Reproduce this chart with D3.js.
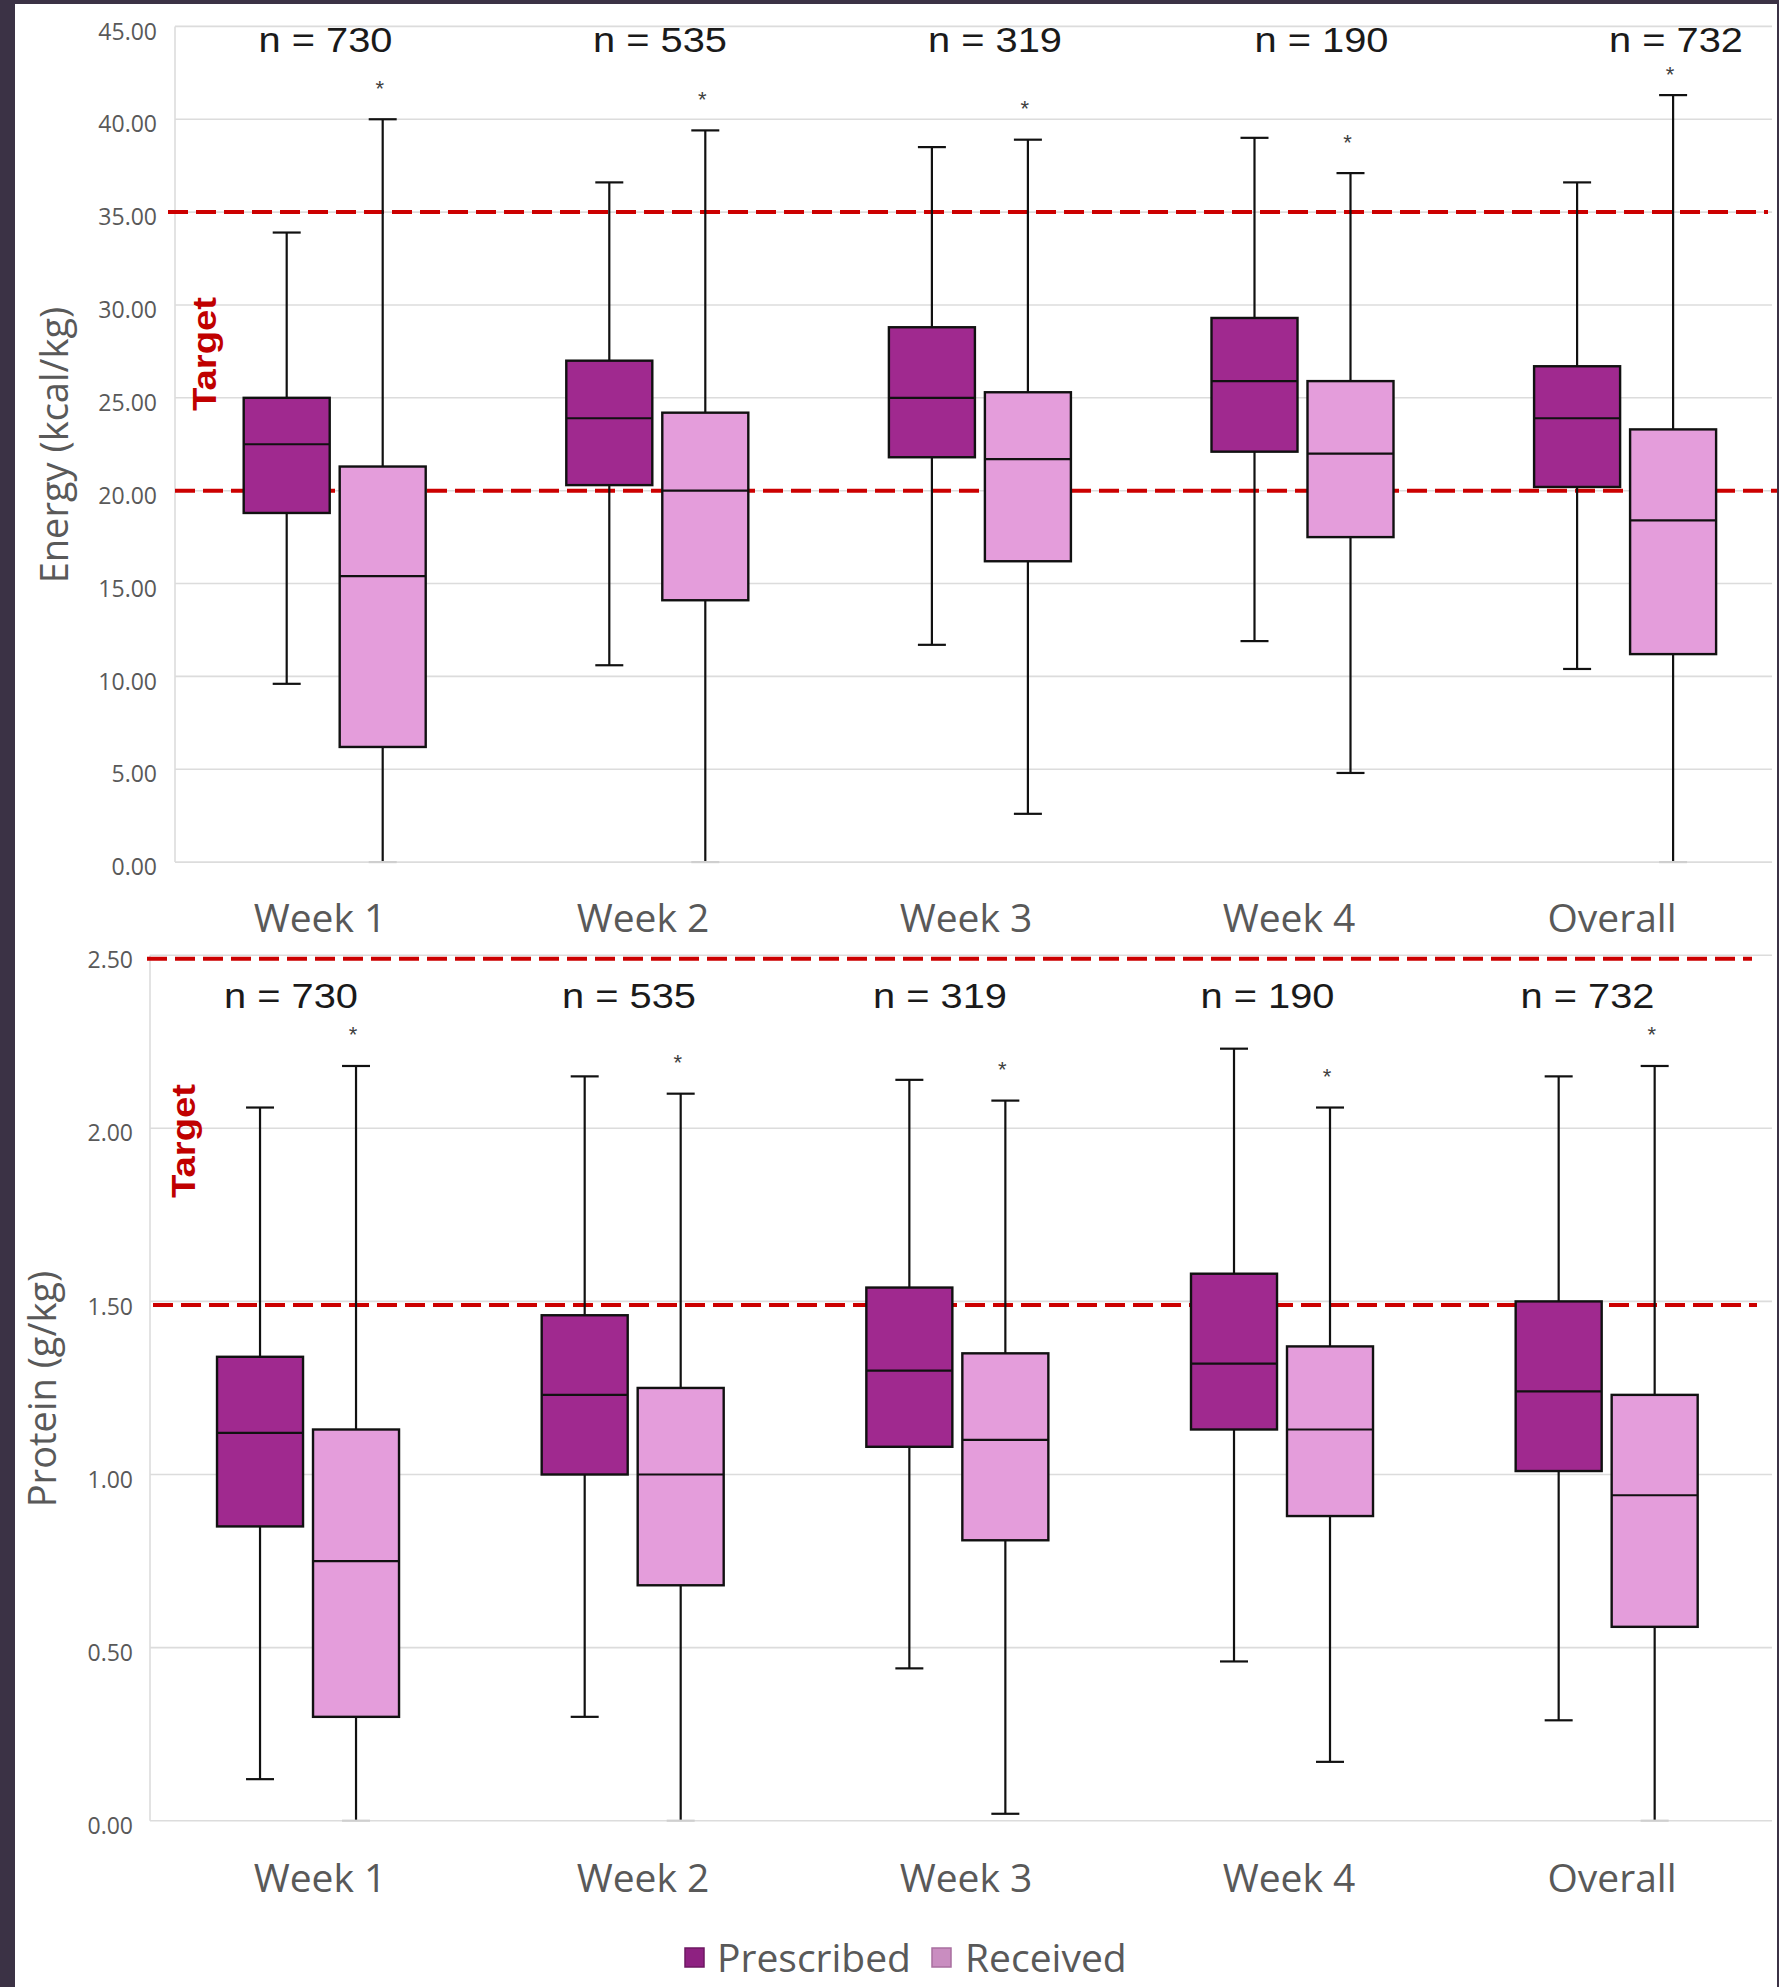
<!DOCTYPE html>
<html>
<head>
<meta charset="utf-8">
<script src="https://cdn.jsdelivr.net/npm/d3@7"></script>
<style>
  body { margin: 0; background: #3b3245; }
  svg { display: block; }
</style>
</head>
<body>
<script>
// ---------- DATA ----------
const categories = ["Week 1", "Week 2", "Week 3", "Week 4", "Overall"];
const series = ["Prescribed", "Received"];
const nEnergy = [730, 535, 319, 190, 732];
const nProtein = [730, 535, 319, 190, 732];

// each entry: [lower whisker, Q1, median, Q3, upper whisker]
const energyPrescribed = [
  [9.6, 18.8, 22.5, 25.0, 33.9],
  [10.6, 20.3, 23.9, 27.0, 36.6],
  [11.7, 21.8, 25.0, 28.8, 38.5],
  [11.9, 22.1, 25.9, 29.3, 39.0],
  [10.4, 20.2, 23.9, 26.7, 36.6]
];
const energyReceived = [
  [0.0, 6.2, 15.4, 21.3, 40.0],
  [0.0, 14.1, 20.0, 24.2, 39.4],
  [2.6, 16.2, 21.7, 25.3, 38.9],
  [4.8, 17.5, 22.0, 25.9, 37.1],
  [0.0, 11.2, 18.4, 23.3, 41.3]
];
const proteinPrescribed = [
  [0.12, 0.85, 1.12, 1.34, 2.06],
  [0.30, 1.00, 1.23, 1.46, 2.15],
  [0.44, 1.08, 1.30, 1.54, 2.14],
  [0.46, 1.13, 1.32, 1.58, 2.23],
  [0.29, 1.01, 1.24, 1.50, 2.15]
];
const proteinReceived = [
  [0.00, 0.30, 0.75, 1.13, 2.18],
  [0.00, 0.68, 1.00, 1.25, 2.10],
  [0.02, 0.81, 1.10, 1.35, 2.08],
  [0.17, 0.88, 1.13, 1.37, 2.06],
  [0.00, 0.56, 0.94, 1.23, 2.18]
];
const energyTicks = [0, 5, 10, 15, 20, 25, 30, 35, 40, 45];
const proteinTicks = [0, 0.5, 1.0, 1.5, 2.0, 2.5];
const energyTargets = [20, 35];
const proteinTargets = [1.5, 2.5];

// ---------- STYLE ----------
const W = 1779, H = 1987;
const colors = { Prescribed: "#a0298f", Received: "#e49ddb" };
const legendColors = { Prescribed: "#8e2181", Received: "#c98dc0" };
const legendStroke = { Prescribed: "#6d1862", Received: "#a86f9f" };
const red = "#cc0000";
const grey = "#595959";
const gridColor = "#dcdcdc";

const svg = d3.select("body").append("svg")
  .attr("width", W).attr("height", H);

svg.append("rect").attr("width", W).attr("height", H).attr("fill", "#3b3245");
svg.append("rect").attr("x", 15).attr("y", 4).attr("width", W - 17).attr("height", H - 4).attr("fill", "#ffffff");

const labelX = d3.scalePoint().domain(categories).range([320, 1612]);

const inner = d3.scaleBand().domain(series).range([-96, 96])
  .paddingInner(0.104).paddingOuter(0.052);

function panel(cfg) {
  const g = svg.append("g");
  const x = d3.scaleBand().domain(categories).range(cfg.xRange);
  const y = d3.scaleLinear().domain(cfg.yDomain).range(cfg.yRange);

  // gridlines
  g.append("g").selectAll("line").data(cfg.ticks).join("line")
    .attr("x1", cfg.plotLeft).attr("x2", cfg.plotRight)
    .attr("y1", d => y(d)).attr("y2", d => y(d))
    .attr("stroke", gridColor).attr("stroke-width", 1.6);
  g.append("line")
    .attr("x1", cfg.plotLeft).attr("x2", cfg.plotLeft)
    .attr("y1", y(cfg.yDomain[1])).attr("y2", y(0))
    .attr("stroke", gridColor).attr("stroke-width", 1.6);

  // y axis labels
  const axis = d3.axisLeft(y).tickValues(cfg.ticks).tickFormat(d3.format(".2f"))
    .tickSize(0).tickPadding(0);
  const ag = g.append("g").attr("transform", `translate(${cfg.labelRight},0)`).call(axis);
  ag.select(".domain").remove();
  ag.selectAll("text")
    .attr("dy", "0.55em")
    .attr("fill", grey)
    .style("font-family", "'Open Sans', sans-serif")
    .style("font-size", "23px");

  // target lines
  g.append("g").attr("transform", `translate(0,${cfg.targetShift})`)
    .selectAll("line").data(cfg.targets).join("line")
    .attr("x1", (d, i) => cfg.targetX[i][0]).attr("x2", (d, i) => cfg.targetX[i][1])
    .attr("y1", d => y(d)).attr("y2", d => y(d))
    .attr("stroke", red).attr("stroke-width", 4)
    .attr("stroke-dasharray", "20,8");

  // boxes
  const groups = series.map((s, si) => ({ s, data: cfg.values[si] }));
  groups.forEach(({ s, data }) => {
    data.forEach((v, i) => {
      const cx = x(categories[i]) + x.bandwidth() / 2 + inner(s) + inner.bandwidth() / 2;
      const bw = inner.bandwidth();
      const [lo, q1, med, q3, hi] = v;
      const bg = g.append("g");
      // whisker
      bg.append("line").attr("x1", cx).attr("x2", cx)
        .attr("y1", y(hi)).attr("y2", y(lo))
        .attr("stroke", "#111").attr("stroke-width", 2.2);
      // caps
      [hi, lo].forEach(c => {
        bg.append("line").attr("x1", cx - 14).attr("x2", cx + 14)
          .attr("y1", y(c)).attr("y2", y(c))
          .attr("stroke", c === 0 ? "#cfcfcf" : "#111").attr("stroke-width", 2.2);
      });
      // box
      bg.append("rect")
        .attr("x", cx - bw / 2).attr("width", bw)
        .attr("y", y(q3)).attr("height", y(q1) - y(q3))
        .attr("fill", colors[s]).attr("stroke", "#111").attr("stroke-width", 2.4);
      bg.append("line").attr("x1", cx - bw / 2).attr("x2", cx + bw / 2)
        .attr("y1", y(med)).attr("y2", y(med))
        .attr("stroke", "#111").attr("stroke-width", 2.2);
      // significance star above received
      if (s === "Received") {
        const sy = Math.max(y(hi) - 31, cfg.nBaseline + 22);
        bg.append("text").attr("x", cx - 3).attr("y", sy)
          .attr("text-anchor", "middle").attr("dominant-baseline", "central")
          .attr("fill", "#404040")
          .style("font-family", "'Liberation Sans', Arial, sans-serif")
          .style("font-size", "22px")
          .text("*");
      }
    });
  });

  // n labels
  const nX = d3.scalePoint().domain(categories).range(cfg.nRange);
  g.append("g").selectAll("text").data(cfg.n).join("text")
    .attr("x", (d, i) => nX(categories[i]) + cfg.nNudge[i])
    .attr("y", cfg.nBaseline)
    .attr("text-anchor", "middle")
    .attr("fill", "#1a1a1a")
    .attr("textLength", 134).attr("lengthAdjust", "spacingAndGlyphs")
    .style("font-family", "'Liberation Sans', Arial, sans-serif")
    .style("font-size", "35px")
    .text(d => `n = ${d}`);

  // category labels
  g.append("g").selectAll("text").data(categories).join("text")
    .attr("x", d => labelX(d))
    .attr("y", cfg.catBaseline)
    .attr("text-anchor", "middle")
    .attr("fill", grey)
    .style("font-family", "'Open Sans', sans-serif")
    .style("font-size", "39px")
    .text(d => d);

  // y title
  g.append("text")
    .attr("transform", `translate(${cfg.titleX},${cfg.titleY}) rotate(-90)`)
    .attr("text-anchor", "middle")
    .attr("fill", grey)
    .style("font-family", "'Open Sans', sans-serif")
    .style("font-size", "38px")
    .text(cfg.title);

  // Target label
  g.append("text")
    .attr("transform", `translate(${cfg.targetLabel[0]},${cfg.targetLabel[1]}) rotate(-90)`)
    .attr("text-anchor", "middle")
    .attr("fill", "#c00000")
    .attr("textLength", 114).attr("lengthAdjust", "spacingAndGlyphs")
    .style("font-family", "'Liberation Sans', Arial, sans-serif")
    .style("font-weight", "bold")
    .style("font-size", "33px")
    .text("Target");
}

panel({
  values: [energyPrescribed, energyReceived],
  n: nEnergy,
  ticks: energyTicks,
  targets: energyTargets,
  targetX: [[175, 1777], [168, 1768]],
  targetShift: 0,
  yDomain: [0, 45],
  yRange: [862.1, 26.4],
  xRange: [173.4, 1786.4],
  plotLeft: 175, plotRight: 1772,
  labelRight: 157,
  nRange: [325, 1665], nNudge: [0.5, 0, 0, -8.5, 11], nBaseline: 52,
  catBaseline: 932,
  title: "Energy (kcal/kg)", titleX: 68, titleY: 445,
  targetLabel: [216, 354]
});

panel({
  values: [proteinPrescribed, proteinReceived],
  n: nProtein,
  ticks: proteinTicks,
  targets: proteinTargets,
  targetX: [[153, 1757], [147, 1752]],
  targetShift: 3.5,
  yDomain: [0, 2.5],
  yRange: [1820.7, 955.2],
  xRange: [145.7, 1769],
  plotLeft: 150, plotRight: 1772,
  labelRight: 133,
  nRange: [291, 1585], nNudge: [0, 14.5, 2, 6, 2.5], nBaseline: 1008,
  catBaseline: 1892,
  title: "Protein (g/kg)", titleX: 56, titleY: 1389,
  targetLabel: [195, 1141]
});

// legend
const leg = svg.append("g");
const legItems = [
  { s: "Prescribed", sx: 685, tx: 717 },
  { s: "Received", sx: 932, tx: 965 }
];
legItems.forEach(it => {
  leg.append("rect").attr("x", it.sx).attr("y", 1948).attr("width", 19).attr("height", 19)
    .attr("fill", legendColors[it.s]).attr("stroke", legendStroke[it.s]).attr("stroke-width", 1.5);
  leg.append("text").attr("x", it.tx).attr("y", 1972)
    .attr("fill", grey)
    .style("font-family", "'Open Sans', sans-serif")
    .style("font-size", "39px")
    .text(it.s);
});
</script>
</body>
</html>
